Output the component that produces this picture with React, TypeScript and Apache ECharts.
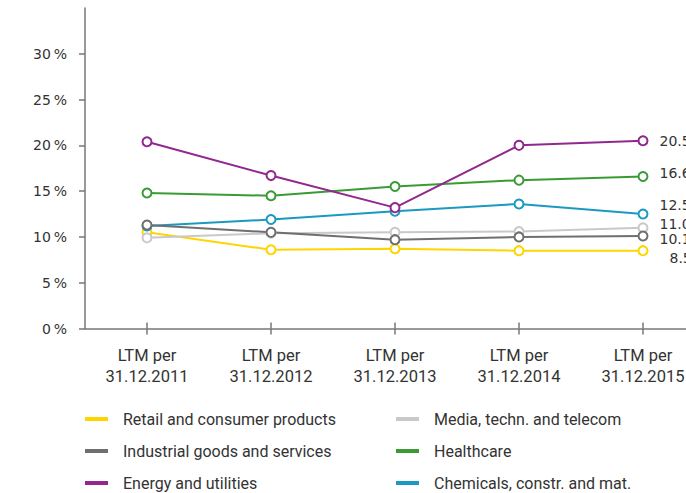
import React, { useEffect, useRef } from 'react';
import * as echarts from 'echarts';

const categories = [
  'LTM per\n31.12.2011',
  'LTM per\n31.12.2012',
  'LTM per\n31.12.2013',
  'LTM per\n31.12.2014',
  'LTM per\n31.12.2015',
];
const yTicks = [0, 5, 10, 15, 20, 25, 30];

const retail = [10.5, 8.6, 8.7, 8.5, 8.5];
const media = [9.9, 10.4, 10.5, 10.6, 11.0];
const industrial = [11.3, 10.5, 9.7, 10.0, 10.1];
const healthcare = [14.8, 14.5, 15.5, 16.2, 16.6];
const energy = [20.4, 16.7, 13.2, 20.0, 20.5];
const chemicals = [11.2, 11.9, 12.8, 13.6, 12.5];

const seriesDefs = [
  { name: 'Retail and consumer products', data: retail, color: '#FFD500', offset: [10, 7] },
  { name: 'Chemicals, constr. and mat.', data: chemicals, color: '#1A9AC1', offset: [0, -9] },
  { name: 'Media, techn. and telecom', data: media, color: '#C9C9C9', offset: [0, -4] },
  { name: 'Healthcare', data: healthcare, color: '#3A9B35', offset: [0, -3] },
  { name: 'Energy and utilities', data: energy, color: '#91278F', offset: [0, 0] },
  { name: 'Industrial goods and services', data: industrial, color: '#6F6F6F', offset: [0, 3] },
];

const legendLeft = ['Retail and consumer products', 'Industrial goods and services', 'Energy and utilities'];
const legendRight = ['Media, techn. and telecom', 'Healthcare', 'Chemicals, constr. and mat.'];

export default function App() {
  const ref = useRef<HTMLDivElement>(null);
  useEffect(() => {
    document.body.style.margin = '0';
    document.body.style.overflow = 'hidden';
    document.documentElement.style.overflow = 'hidden';
    const chart = echarts.init(ref.current!, null, { renderer: 'svg' });
    const legendText = {
      fontFamily: 'Roboto',
      fontSize: 16,
      lineHeight: 20,
      color: '#333',
      padding: [0, 0, 0, 10],
    };
    const tickStyle = { color: '#777', width: 1.5 };
    chart.setOption({
      animation: false,
      grid: { left: 85, right: 0, top: 8, bottom: 164.5 },
      legend: [
        {
          data: legendLeft,
          orient: 'vertical',
          left: 85,
          top: 409,
          icon: 'rect',
          itemWidth: 23,
          itemHeight: 4,
          itemGap: 12,
          padding: 0,
          selectedMode: false,
          textStyle: legendText,
        },
        {
          data: legendRight,
          orient: 'vertical',
          left: 396,
          top: 409,
          icon: 'rect',
          itemWidth: 23,
          itemHeight: 4,
          itemGap: 12,
          padding: 0,
          selectedMode: false,
          textStyle: legendText,
        },
      ],
      xAxis: [
        {
          type: 'category',
          data: categories,
          position: 'bottom',
          boundaryGap: true,
          axisLine: { show: true, lineStyle: tickStyle },
          axisTick: { show: true, alignWithLabel: true, length: 6, lineStyle: tickStyle },
          axisLabel: {
            margin: 16,
            fontFamily: 'Roboto',
            fontSize: 16.5,
            lineHeight: 21,
            color: '#333',
          },
        },
        {
          type: 'category',
          data: categories,
          position: 'bottom',
          boundaryGap: true,
          axisLine: { show: false },
          axisTick: { show: true, inside: true, alignWithLabel: true, length: 6, lineStyle: tickStyle },
          axisLabel: { show: false },
        },
      ],
      yAxis: {
        type: 'value',
        min: 0,
        max: 35,
        interval: 5,
        splitLine: { show: false },
        axisLine: { show: true, lineStyle: tickStyle },
        axisTick: { show: true, length: 6, customValues: yTicks, lineStyle: tickStyle },
        axisLabel: {
          customValues: yTicks,
          margin: 18,
          fontFamily: 'DejaVu Sans',
          fontSize: 14,
          color: '#333',
          padding: [0, 0, 10, 0],
          formatter: (v: number) => v + '\u2009%',
        },
      },
      series: seriesDefs.map((s) => ({
        name: s.name,
        type: 'line',
        xAxisIndex: 0,
        data: s.data.map((v, i) =>
          i === s.data.length - 1
            ? {
                value: v,
                label: {
                  show: true,
                  position: 'right',
                  distance: 11,
                  offset: s.offset,
                  fontFamily: 'DejaVu Sans',
                  fontSize: 14,
                  color: '#333',
                  formatter: (p: any) => Number(p.value).toFixed(1),
                },
              }
            : v
        ),
        symbol: 'emptyCircle',
        symbolSize: 9,
        showAllSymbol: true,
        lineStyle: { color: s.color, width: 2 },
        itemStyle: { color: s.color, borderWidth: 2 },
        emphasis: { disabled: true },
      })),
    });
    return () => chart.dispose();
  }, []);
  return <div ref={ref} style={{ width: 705, height: 493 }} />;
}
